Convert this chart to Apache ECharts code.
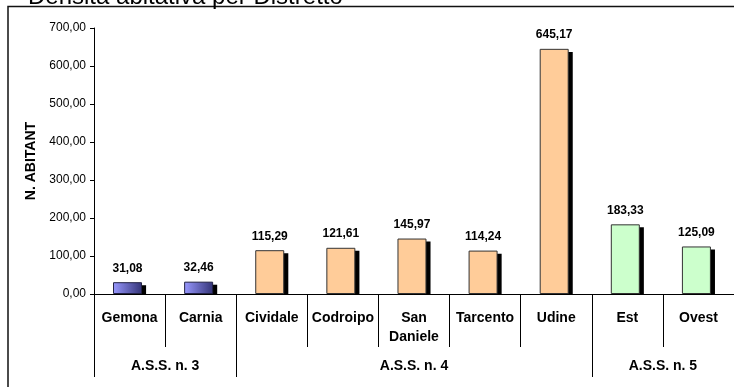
<!DOCTYPE html>
<html>
<head>
<meta charset="utf-8">
<script src="https://cdn.jsdelivr.net/npm/echarts@6/dist/echarts.min.js"></script>
<style>
  html, body { margin: 0; padding: 0; background: #fff; }
  #main { width: 734px; height: 387px; }
</style>
</head>
<body>
<div id="main"></div>
<script>
var categories = ['Gemona', 'Carnia', 'Cividale', 'Codroipo', 'San\nDaniele', 'Tarcento', 'Udine', 'Est', 'Ovest'];
var values = [31.08, 32.46, 115.29, 121.61, 145.97, 114.24, 645.17, 183.33, 125.09];
var groupOf = [0, 0, 1, 1, 1, 1, 1, 2, 2];
var groups = ['A.S.S. n. 3', 'A.S.S. n. 4', 'A.S.S. n. 5'];
var groupBounds = [0, 2, 7, 9];
var groupCenters = [1, 4.5, 8];

var font = 'Arial, "Liberation Sans", sans-serif';

function fmt(v) {
    return v.toFixed(2).replace('.', ',');
}

var groupStyles = [
    {
        color: new echarts.graphic.LinearGradient(0, 0, 1, 0, [
            { offset: 0, color: '#9999ff' },
            { offset: 1, color: '#333377' }
        ]),
        borderColor: '#222244'
    },
    { color: '#ffcc99', borderColor: '#333333' },
    { color: '#ccffcc', borderColor: '#333333' }
];

var barData = values.map(function (v, i) {
    var s = groupStyles[groupOf[i]];
    return {
        value: v,
        itemStyle: { color: s.color, borderColor: s.borderColor, borderWidth: 1 }
    };
});

// drop shadow: same bars a few px lower, shifted right behind the real ones
var shadowData = values.map(function (v) {
    return Math.max(v - 8, 0);
});

var myChart = echarts.init(document.getElementById('main'));
var option = {
    animation: false,
    textStyle: { fontFamily: font },
    title: {
        text: 'Densità abitativa per Distretto',
        left: 23,
        top: -20,
        textStyle: { fontSize: 24, fontWeight: 'normal', color: '#000', fontFamily: font }
    },
    graphic: [{
        type: 'rect',
        shape: { x: 8, y: 6.5, width: 760, height: 420 },
        style: { fill: 'none', stroke: '#111', lineWidth: 1.5 },
        z: 0
    }],
    grid: { left: 94, right: -3, top: 28, bottom: 93 },
    xAxis: [{
        type: 'category',
        data: categories,
        position: 'bottom',
        axisLine: { lineStyle: { color: '#000', width: 1 } },
        axisTick: { show: true, interval: 0, length: 53, lineStyle: { color: '#000' } },
        axisLabel: {
            interval: 0,
            margin: 15,
            color: '#000',
            fontWeight: 'bold',
            fontSize: 14,
            lineHeight: 19,
            verticalAlign: 'top'
        }
    }, {
        type: 'value',
        min: 0,
        max: 9,
        position: 'bottom',
        offset: 0,
        axisLine: { show: false },
        splitLine: { show: false },
        axisTick: {
            show: true,
            customValues: groupBounds,
            length: 83,
            lineStyle: { color: '#000' }
        },
        axisLabel: {
            customValues: groupCenters,
            margin: 65,
            color: '#000',
            fontWeight: 'bold',
            fontSize: 14,
            formatter: function (v) {
                var i = groupCenters.indexOf(v);
                return i >= 0 ? groups[i] : '';
            }
        }
    }],
    yAxis: {
        type: 'value',
        min: 0,
        max: 700,
        interval: 100,
        name: 'N. ABITANT',
        nameLocation: 'middle',
        nameGap: 53,
        nameRotate: 90,
        nameTextStyle: { fontWeight: 'bold', fontSize: 14, color: '#000' },
        axisLine: { show: true, lineStyle: { color: '#000' } },
        axisTick: { show: true, length: 4, lineStyle: { color: '#000' } },
        splitLine: { show: false },
        axisLabel: {
            color: '#000',
            fontSize: 12,
            margin: 8,
            formatter: function (v) { return fmt(v); }
        }
    },
    series: [{
        type: 'bar',
        data: barData,
        barWidth: 29,
        barGap: '-86%',
        z: 3,
        label: {
            show: true,
            position: 'top',
            distance: 8,
            color: '#000',
            fontWeight: 'bold',
            fontSize: 12,
            formatter: function (p) { return fmt(p.value); }
        }
    }, {
        type: 'bar',
        data: shadowData,
        barWidth: 29,
        z: 2,
        silent: true,
        itemStyle: { color: '#000' }
    }]
};
myChart.setOption(option);
</script>
</body>
</html>
